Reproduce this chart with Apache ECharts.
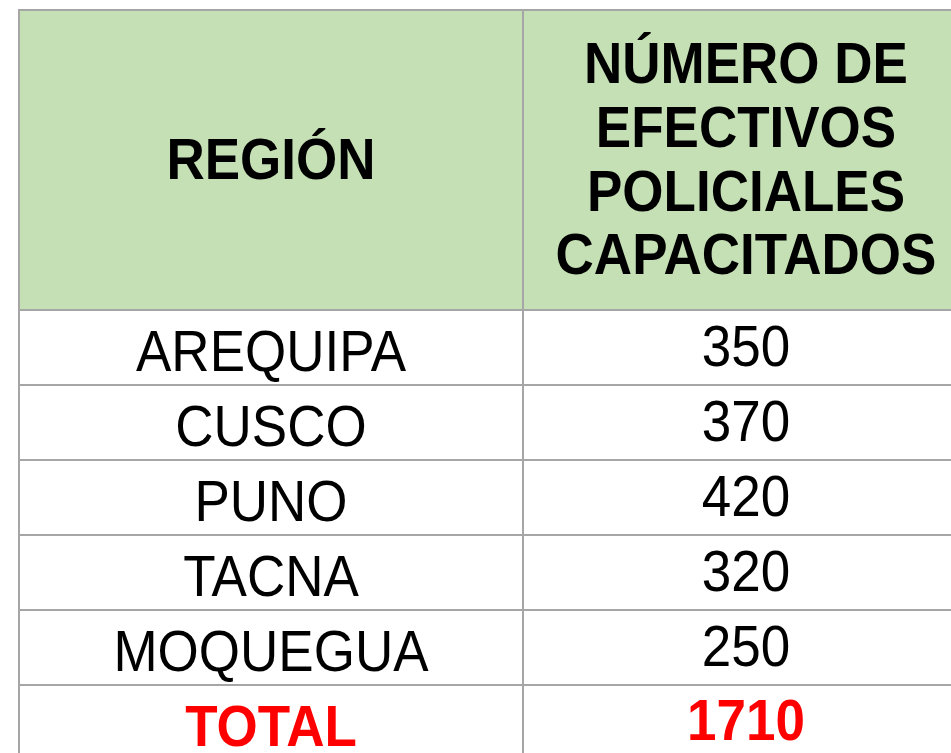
<!DOCTYPE html>
<html>
<head>
<meta charset="utf-8">
<script src="https://cdn.jsdelivr.net/npm/echarts@6/dist/echarts.min.js"></script>
<style>
  html, body { margin: 0; padding: 0; background: #ffffff; overflow: hidden; }
  #chart { width: 1000px; height: 800px; }
</style>
</head>
<body>
<div id="chart"></div>
<script>
  const headers = ['REGIÓN', 'NÚMERO DE\nEFECTIVOS\nPOLICIALES\nCAPACITADOS'];
  const regions = ['AREQUIPA', 'CUSCO', 'PUNO', 'TACNA', 'MOQUEGUA'];
  const trained = [350, 370, 420, 320, 250];
  const totalLabel = 'TOTAL';
  const totalValue = 1710;

  (function () {
    const el = document.getElementById('chart');
    const chart = echarts.init(el);

    // column edges in x-axis units, rows in y-axis units (header = 4 rows tall)
    const colEdges = [0, 504, 950];
    const headerRows = 4;
    const fontFamily = '"Liberation Sans", Arial, sans-serif';
    const borderColor = '#a6a6a6';

    const cells = [];
    headers.forEach((h, i) => {
      cells.push({ col: i, y0: 0, y1: headerRows, text: h, kind: 'header' });
    });
    regions.forEach((r, i) => {
      const y0 = headerRows + i;
      cells.push({ col: 0, y0, y1: y0 + 1, text: r, kind: 'body' });
      cells.push({ col: 1, y0, y1: y0 + 1, text: String(trained[i]), kind: 'body' });
    });
    const totalRow = headerRows + regions.length;
    cells.push({ col: 0, y0: totalRow, y1: totalRow + 1, text: totalLabel, kind: 'total' });
    cells.push({ col: 1, y0: totalRow, y1: totalRow + 1, text: String(totalValue), kind: 'total' });

    // text sits a little lower in the name column than in the number column
    const offsets = {
      header: [3, 3],
      body: [8, 3],
      total: [8, 2],
    };

    function renderCell(params, api) {
      const cell = cells[params.dataIndex];
      const col = api.value(0);
      const p0 = api.coord([colEdges[col], api.value(1)]);
      const p1 = api.coord([colEdges[col + 1], api.value(2)]);
      const x = p0[0];
      const y = p0[1];
      const w = p1[0] - p0[0];
      const h = p1[1] - p0[1];

      let fill = '#ffffff';
      let textColor = '#000000';
      let weight = 'normal';
      if (cell.kind === 'header') {
        fill = '#c5e0b4';
        weight = 'bold';
      } else if (cell.kind === 'total') {
        textColor = '#ff0000';
        weight = 'bold';
      }
      const dy = offsets[cell.kind][col];

      return {
        type: 'group',
        children: [
          {
            type: 'rect',
            shape: { x, y, width: w, height: h },
            style: { fill, stroke: borderColor, lineWidth: 2 },
          },
          {
            type: 'text',
            x: x + w / 2,
            y: y + h / 2 + dy,
            scaleY: 1.08,
            style: {
              text: cell.text,
              fill: textColor,
              font: weight + ' 53px ' + fontFamily,
              align: 'center',
              verticalAlign: 'middle',
              lineHeight: 59,
            },
          },
        ],
      };
    }

    chart.setOption({
      animation: false,
      backgroundColor: '#ffffff',
      grid: { left: 19, top: 10, width: 950, height: 750 },
      xAxis: { type: 'value', min: 0, max: 950, show: false },
      yAxis: { type: 'value', min: 0, max: 10, inverse: true, show: false },
      series: [{
        type: 'custom',
        clip: false,
        renderItem: renderCell,
        data: cells.map((c) => [c.col, c.y0, c.y1]),
      }],
    });

    window.addEventListener('resize', () => chart.resize());
  })();
</script>
</body>
</html>
